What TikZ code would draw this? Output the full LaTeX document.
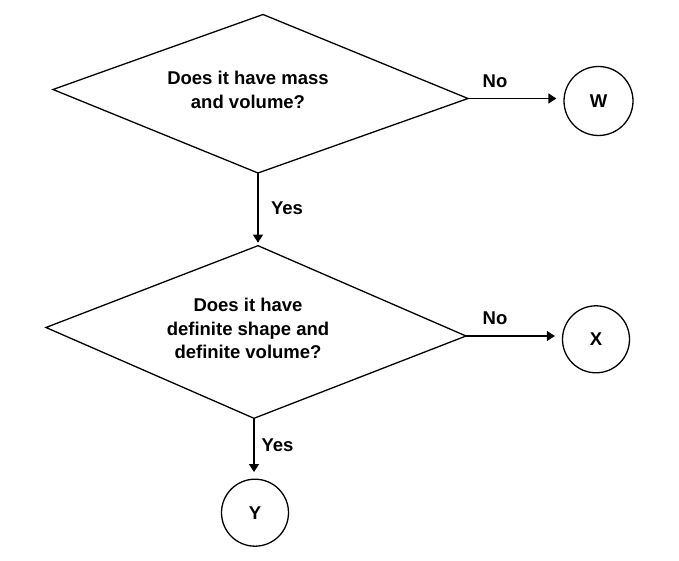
\documentclass[tikz,border=0pt]{standalone}
\usepackage{fontspec}
\setmainfont{Liberation Sans}
\usetikzlibrary{arrows.meta}
\begin{document}
\begin{tikzpicture}[x=1pt,y=-1pt,
  outline/.style={draw=black,line width=1.3pt,line join=miter},
  arr/.style={draw=black,line width=1.3pt,-{Triangle[length=8pt,width=10pt]}},
  qtext/.style={align=center,inner sep=0pt,font=\fontsize{18.5}{23.5}\selectfont\bfseries},
  lbl/.style={inner sep=0pt,font=\fontsize{18.5}{22}\selectfont\bfseries},
  endpt/.style={circle,draw=black,line width=1.3pt,minimum size=67pt,inner sep=0pt,
    font=\fontsize{18.5}{22}\selectfont\bfseries}]
\useasboundingbox (0,0) rectangle (679,561);
\fill[white] (0,0) rectangle (679,561);

% first decision
\coordinate (d1l) at (53,89.5);
\coordinate (d1t) at (263,14.5);
\coordinate (d1r) at (468,98.5);
\coordinate (d1b) at (258,173);
\draw[outline] (d1l) -- (d1t) -- (d1r) -- (d1b) -- cycle;
\node[qtext] (q1) at (248,90) {Does it have mass\\and volume?};

% second decision
\coordinate (d2l) at (46,327.5);
\coordinate (d2t) at (258,245.7);
\coordinate (d2r) at (466,336);
\coordinate (d2b) at (254,418.3);
\draw[outline] (d2l) -- (d2t) -- (d2r) -- (d2b) -- cycle;
\node[qtext] (q2) at (248,328.5) {Does it have\\definite shape and\\definite volume?};

% outcomes
\node[endpt,minimum size=69pt] (W) at (598.5,101) {W};
\node[endpt] (X) at (596,339.3) {X};
\node[endpt] (Y) at (255,512.7) {Y};

% connectors
\draw[arr] (d1r) -- ([xshift=-7pt]W.west |- d1r);
\node[lbl] (no1) at (495,81) {No};
\draw[arr,shorten >=3pt] (d1b) -- (d1b |- d2t);
\node[lbl] (yes1) at (287,208) {Yes};
\draw[arr] (d2r) -- ([xshift=-7pt]X.west |- d2r);
\node[lbl] (no2) at (495,318.3) {No};
\draw[arr,shorten >=6.5pt] (d2b) -- (d2b |- Y.north);
\node[lbl] (yes2) at (277.5,445) {Yes};
\end{tikzpicture}
\end{document}
